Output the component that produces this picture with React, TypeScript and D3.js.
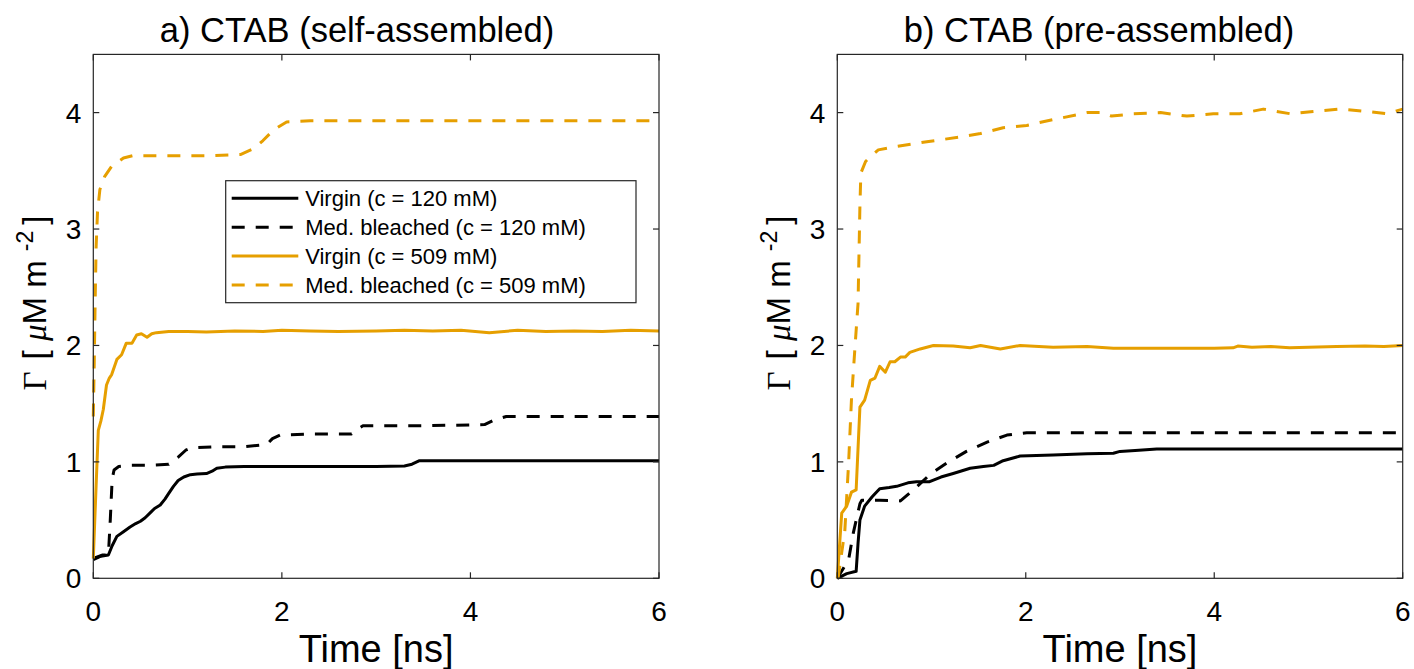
import React from "react";
import * as d3 from "d3";

type P = [number, number];

// ---------- data (time [ns], Gamma [uM m^-2]) ----------
const xTicks = [0, 2, 4, 6];
const yTicks = [0, 1, 2, 3, 4];
const panelTitles = ["a) CTAB (self-assembled)", "b) CTAB (pre-assembled)"];
const legendLabels = [
  "Virgin (c = 120 mM)",
  "Med. bleached (c = 120 mM)",
  "Virgin (c = 509 mM)",
  "Med. bleached (c = 509 mM)",
];

const leftVirgin120: P[] = [
  [0, 0.16], [0.08, 0.19], [0.16, 0.2], [0.2, 0.28], [0.25, 0.36], [0.32, 0.4], [0.39, 0.44],
  [0.45, 0.47], [0.5, 0.49], [0.55, 0.52], [0.6, 0.56], [0.65, 0.6], [0.71, 0.63], [0.76, 0.68],
  [0.8, 0.73], [0.85, 0.79], [0.9, 0.84], [0.96, 0.87], [1.03, 0.89], [1.1, 0.895], [1.2, 0.9],
  [1.26, 0.92], [1.31, 0.945], [1.4, 0.955], [1.6, 0.96], [2.0, 0.96], [2.5, 0.96], [3.0, 0.96],
  [3.3, 0.965], [3.38, 0.98], [3.46, 1.01], [3.6, 1.01], [4.5, 1.01], [5.5, 1.01], [6, 1.01],
];
const leftBleached120: P[] = [
  [0, 0.17], [0.1, 0.2], [0.16, 0.2], [0.18, 0.5], [0.2, 0.85], [0.22, 0.93], [0.27, 0.96],
  [0.4, 0.97], [0.6, 0.97], [0.8, 0.98], [0.9, 1.04], [0.98, 1.1], [1.04, 1.12], [1.3, 1.13],
  [1.6, 1.13], [1.84, 1.15], [1.9, 1.2], [1.98, 1.23], [2.3, 1.24], [2.74, 1.24], [2.8, 1.28],
  [2.86, 1.31], [3.5, 1.31], [4.15, 1.32], [4.25, 1.36], [4.38, 1.39], [5, 1.39], [6, 1.39],
];
const leftVirgin509: P[] = [
  [0, 0.17], [0.03, 0.8], [0.053, 1.27], [0.08, 1.35], [0.106, 1.45], [0.14, 1.66], [0.17, 1.72],
  [0.195, 1.75], [0.25, 1.88], [0.3, 1.92], [0.35, 2.02], [0.41, 2.02], [0.46, 2.09], [0.51, 2.1],
  [0.57, 2.07], [0.62, 2.1], [0.67, 2.11], [0.8, 2.12], [1.0, 2.12], [1.2, 2.115], [1.5, 2.125],
  [1.8, 2.12], [2.0, 2.13], [2.3, 2.125], [2.6, 2.12], [3.0, 2.125], [3.3, 2.13], [3.6, 2.125],
  [3.9, 2.13], [4.2, 2.11], [4.5, 2.13], [4.8, 2.12], [5.1, 2.125], [5.4, 2.12], [5.7, 2.13], [6, 2.125],
];
const leftBleached509: P[] = [
  [0, 1.39], [0.01, 1.85], [0.02, 2.4], [0.03, 2.85], [0.045, 3.15], [0.07, 3.34], [0.12, 3.45],
  [0.195, 3.54], [0.32, 3.61], [0.42, 3.63], [0.8, 3.63], [1.2, 3.63], [1.56, 3.64], [1.7, 3.69],
  [1.8, 3.76], [1.91, 3.85], [2.05, 3.92], [2.3, 3.93], [3, 3.93], [4, 3.93], [5, 3.93], [6, 3.93],
];

const rightVirgin120: P[] = [
  [0, 0], [0.1, 0.04], [0.2, 0.06], [0.22, 0.3], [0.24, 0.5], [0.29, 0.62], [0.37, 0.7], [0.45, 0.77],
  [0.55, 0.78], [0.63, 0.79], [0.75, 0.82], [0.84, 0.83], [0.98, 0.83], [1.1, 0.87], [1.23, 0.9],
  [1.41, 0.945], [1.55, 0.96], [1.66, 0.97], [1.76, 1.01], [1.94, 1.05], [2.29, 1.06], [2.65, 1.07],
  [2.93, 1.074], [3.0, 1.09], [3.2, 1.1], [3.39, 1.11], [4, 1.11], [5, 1.11], [6, 1.11],
];
const rightBleached120: P[] = [
  [0, 0], [0.12, 0.16], [0.17, 0.39], [0.24, 0.64], [0.26, 0.67], [0.45, 0.67], [0.67, 0.665],
  [0.81, 0.76], [0.98, 0.89], [1.16, 0.99], [1.37, 1.09], [1.59, 1.17], [1.8, 1.23], [2.01, 1.25],
  [3, 1.25], [4, 1.25], [5, 1.25], [6, 1.25],
];
const rightVirgin509: P[] = [
  [0, 0], [0.047, 0.56], [0.1, 0.62], [0.15, 0.74], [0.2, 0.76], [0.24, 1.47], [0.29, 1.53],
  [0.35, 1.7], [0.4, 1.72], [0.45, 1.82], [0.51, 1.77], [0.56, 1.86], [0.61, 1.86], [0.67, 1.9],
  [0.72, 1.9], [0.77, 1.94], [0.88, 1.97], [1.02, 2.0], [1.23, 1.995], [1.41, 1.98], [1.52, 2.0],
  [1.73, 1.97], [1.94, 2.0], [2.29, 1.985], [2.65, 1.99], [2.93, 1.975], [3.5, 1.975], [4.0, 1.975],
  [4.2, 1.98], [4.25, 1.995], [4.4, 1.985], [4.6, 1.99], [4.8, 1.98], [5.0, 1.985], [5.3, 1.99],
  [5.6, 1.995], [5.8, 1.99], [6, 2.0],
];
const rightBleached509: P[] = [
  [0, 0], [0.01, 0.01], [0.08, 0.41], [0.12, 0.99], [0.15, 1.53], [0.188, 1.99], [0.22, 2.36],
  [0.24, 3.2], [0.25, 3.48], [0.3, 3.58], [0.35, 3.62], [0.435, 3.68], [0.63, 3.71], [0.95, 3.75],
  [1.3, 3.79], [1.52, 3.82], [1.76, 3.87], [2.01, 3.89], [2.29, 3.94], [2.54, 3.98], [2.65, 4.0],
  [2.82, 4.0], [2.91, 3.97], [3.14, 3.99], [3.43, 4.0], [3.71, 3.97], [3.99, 3.99], [4.27, 3.99],
  [4.52, 4.03], [4.81, 3.99], [5.05, 4.01], [5.33, 4.03], [5.62, 4.01], [5.83, 3.99], [6, 4.03],
];

// ---------- styling ----------
const ORANGE = "#E69F00";
const BLACK = "#000000";
const AXIS = "#262626";
const SANS = "'Liberation Sans', Arial, Helvetica, sans-serif";
const SERIF = "'Liberation Serif', 'DejaVu Serif', serif";
const seriesStyles = [
  { color: BLACK, dash: null as string | null },
  { color: BLACK, dash: "13 11" },
  { color: ORANGE, dash: null as string | null },
  { color: ORANGE, dash: "13 11" },
];

const W = 1414;
const H = 669;
const top = 54.4;
const bottom = 578.3;
const panels = [
  { x0: 93.3, x1: 659, titleX: 357, series: [leftVirgin120, leftBleached120, leftVirgin509, leftBleached509], legend: true },
  { x0: 837.3, x1: 1402.7, titleX: 1099, series: [rightVirgin120, rightBleached120, rightVirgin509, rightBleached509], legend: false },
];

function Panel({ p, idx }: { p: (typeof panels)[number]; idx: number }) {
  const x = d3.scaleLinear().domain([0, 6]).range([p.x0, p.x1]);
  const y = d3.scaleLinear().domain([0, 4.5]).range([bottom, top]);
  const line = d3
    .line<P>()
    .x((d) => x(d[0]))
    .y((d) => y(d[1]));
  const tl = 6;
  const cx = (p.x0 + p.x1) / 2;
  const lx = p.x0 + 132.4;
  const ly = 180.7;
  return (
    <g>
      {/* data */}
      {p.series.map((s, i) => (
        <path
          key={i}
          d={line(s) || ""}
          fill="none"
          stroke={seriesStyles[i].color}
          strokeWidth={3}
          strokeDasharray={seriesStyles[i].dash || undefined}
          strokeLinejoin="round"
        />
      ))}
      {/* box */}
      <rect x={p.x0} y={top} width={p.x1 - p.x0} height={bottom - top} fill="none" stroke={AXIS} strokeWidth={1.2} />
      {xTicks.map((t) => (
        <g key={"x" + t}>
          <line x1={x(t)} x2={x(t)} y1={bottom} y2={bottom - tl} stroke={AXIS} strokeWidth={1.2} />
          <line x1={x(t)} x2={x(t)} y1={top} y2={top + tl} stroke={AXIS} strokeWidth={1.2} />
          <text x={x(t)} y={bottom + 43} textAnchor="middle" fontFamily={SANS} fontSize={28} fill="#000">
            {t}
          </text>
        </g>
      ))}
      {yTicks.map((t) => (
        <g key={"y" + t}>
          <line x1={p.x0} x2={p.x0 + tl} y1={y(t)} y2={y(t)} stroke={AXIS} strokeWidth={1.2} />
          <line x1={p.x1} x2={p.x1 - tl} y1={y(t)} y2={y(t)} stroke={AXIS} strokeWidth={1.2} />
          <text x={p.x0 - 12} y={y(t) + 10} textAnchor="end" fontFamily={SANS} fontSize={28} fill="#000">
            {t}
          </text>
        </g>
      ))}
      {/* title */}
      <text x={p.titleX} y={42} textAnchor="middle" fontFamily={SANS} fontSize={34.5} fill="#000">
        {panelTitles[idx]}
      </text>
      {/* x label */}
      <text x={cx} y={662} textAnchor="middle" fontFamily={SANS} fontSize={38} fill="#000">
        Time [ns]
      </text>
      {/* y label */}
      <text
        transform={`translate(${p.x0 - 47},303) rotate(-90)`}
        textAnchor="middle"
        fontFamily={SANS}
        fontSize={33}
        fill="#000"
      >
        <tspan fontFamily={SERIF}>Γ</tspan>
        <tspan dx={12}>{"[ "}</tspan>
        <tspan fontFamily={SERIF} fontStyle="italic">μ</tspan>
        <tspan>M m </tspan>
        <tspan fontSize={23} dy={-13}>-2</tspan>
        <tspan dy={13} dx={6}>{"]"}</tspan>
      </text>
      {p.legend && (
        <g>
          <rect x={lx} y={ly} width={410.3} height={122} fill="#fff" stroke={AXIS} strokeWidth={1.2} />
          {legendLabels.map((lab, i) => {
            const yy = 198.3 + i * 28.9;
            return (
              <g key={lab}>
                <line
                  x1={lx + 6}
                  x2={lx + 72.6}
                  y1={yy}
                  y2={yy}
                  stroke={seriesStyles[i].color}
                  strokeWidth={3}
                  strokeDasharray={seriesStyles[i].dash || undefined}
                />
                <text x={lx + 79.5} y={yy + 8} fontFamily={SANS} fontSize={22} fill="#000">
                  {lab}
                </text>
              </g>
            );
          })}
        </g>
      )}
    </g>
  );
}

export default function App() {
  return (
    <svg
      width={W}
      height={H}
      viewBox={`0 0 ${W} ${H}`}
      style={{ position: "absolute", left: 0, top: 0, background: "#fff" }}
    >
      <rect width={W} height={H} fill="#fff" />
      {panels.map((p, i) => (
        <Panel key={i} p={p} idx={i} />
      ))}
    </svg>
  );
}
